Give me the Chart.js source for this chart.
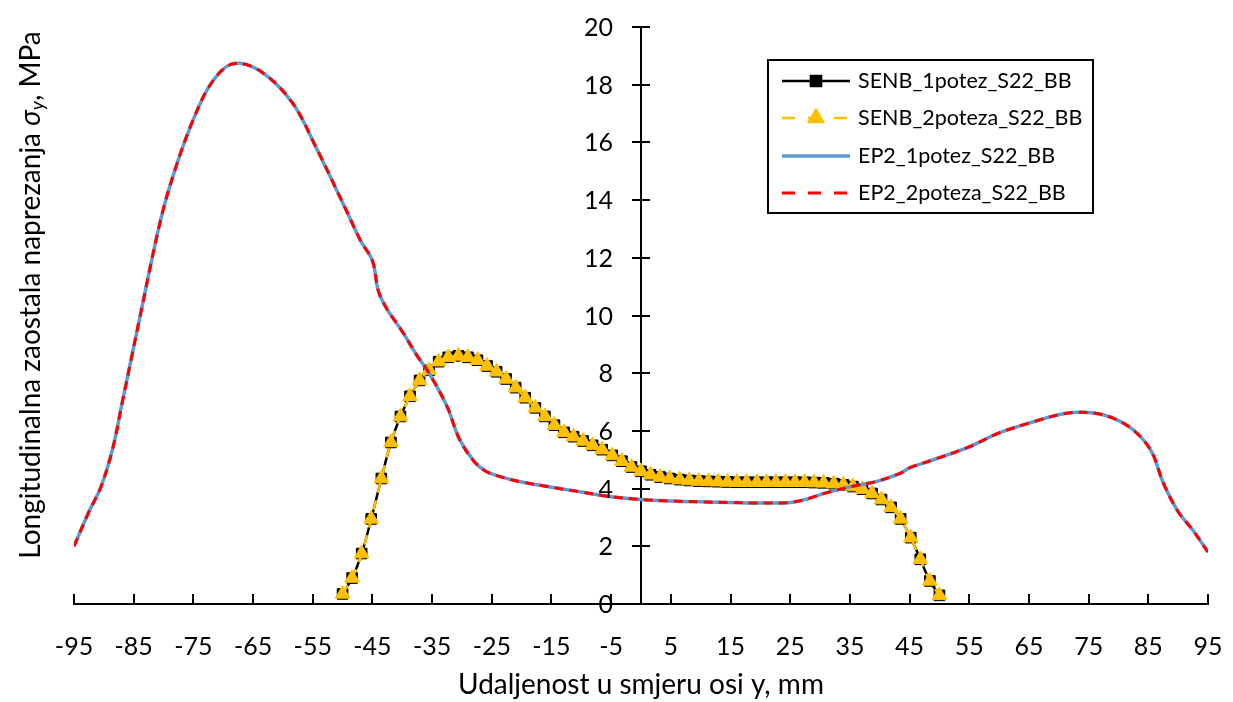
<!DOCTYPE html>
<html>
<head>
<meta charset="utf-8">
<script src="https://cdn.jsdelivr.net/npm/chart.js@4.4.0/dist/chart.umd.min.js"></script>
<style>
  html, body { margin: 0; padding: 0; background: #fff; }
  #wrap { width: 1233px; height: 702px; }
</style>
</head>
<body>
<div id="wrap"><canvas id="myChart" width="1233" height="702"></canvas></div>
<script>
const xTicks = [-95, -85, -75, -65, -55, -45, -35, -25, -15, -5, 5, 15, 25, 35, 45, 55, 65, 75, 85, 95];
const yTicks = [0, 2, 4, 6, 8, 10, 12, 14, 16, 18, 20];

const seriesNames = ['SENB_1potez_S22_BB', 'SENB_2poteza_S22_BB', 'EP2_1potez_S22_BB', 'EP2_2poteza_S22_BB'];

// SENB measurement positions, mm
const senbX = [
  -50.0, -48.4, -46.8, -45.2, -43.5, -41.9, -40.3, -38.7, -37.1, -35.5, -33.9, -32.3, -30.6, -29.0,
  -27.4, -25.8, -24.2, -22.6, -21.0, -19.4, -17.7, -16.1, -14.5, -12.9, -11.3, -9.7, -8.1, -6.5,
  -4.8, -3.2, -1.6, 0.0, 1.6, 3.2, 4.8, 6.5, 8.1, 9.7, 11.3, 12.9, 14.5, 16.1, 17.7, 19.4, 21.0,
  22.6, 24.2, 25.8, 27.4, 29.0, 30.6, 32.3, 33.9, 35.5, 37.1, 38.7, 40.3, 41.9, 43.5, 45.2, 46.8,
  48.4, 50.0
];
const senb1Y = [
  0.35, 0.9, 1.75, 2.95, 4.35, 5.6, 6.5, 7.2, 7.75, 8.1, 8.4, 8.55, 8.6, 8.55,
  8.45, 8.25, 8.05, 7.8, 7.5, 7.15, 6.8, 6.5, 6.2, 5.95, 5.8, 5.65, 5.5, 5.35,
  5.15, 4.95, 4.75, 4.6, 4.48, 4.4, 4.35, 4.31, 4.28, 4.26, 4.25, 4.24, 4.23, 4.22, 4.22, 4.22, 4.22,
  4.22, 4.22, 4.22, 4.22, 4.21, 4.2, 4.17, 4.13, 4.07, 3.98, 3.83, 3.62, 3.35, 2.95, 2.3, 1.55,
  0.8, 0.3
];
const senb2Y = [
  0.35, 0.9, 1.75, 2.95, 4.35, 5.6, 6.5, 7.2, 7.75, 8.1, 8.4, 8.55, 8.6, 8.55,
  8.45, 8.25, 8.05, 7.8, 7.5, 7.15, 6.8, 6.5, 6.2, 5.95, 5.8, 5.65, 5.5, 5.35,
  5.15, 4.95, 4.75, 4.6, 4.48, 4.4, 4.35, 4.31, 4.28, 4.26, 4.25, 4.24, 4.23, 4.22, 4.22, 4.22, 4.22,
  4.22, 4.22, 4.22, 4.22, 4.21, 4.2, 4.17, 4.13, 4.07, 3.98, 3.83, 3.62, 3.35, 2.95, 2.3, 1.55,
  0.8, 0.3
];

// EP2 calculated profile, mm
const ep2X = [
  -95, -92.5, -90.5, -88.5, -87, -85.5, -84, -80.5, -78, -75, -72, -68.5, -64, -58.5, -54.5,
  -49.5, -47, -45, -44, -42.5, -40, -37.5, -35.5, -32.5, -30.5, -28, -26, -23, -20, -15, -10,
  -5, 0, 5, 10, 15, 20, 25, 28, 31, 35, 39.5, 43.5, 45, 49, 55, 60, 65.5, 71, 75.5, 79, 82.5,
  85.5, 87.5, 90, 92.5, 95
];
const ep1Y = [
  2.0, 3.2, 4.05, 5.4, 6.9, 8.4, 9.9, 13.3, 15.1, 16.8, 18.05, 18.72, 18.5, 17.4, 15.85,
  13.7, 12.6, 11.9, 10.85, 10.2, 9.45, 8.6, 8.0, 6.85, 5.75, 4.95, 4.6, 4.38, 4.23, 4.05, 3.88,
  3.72, 3.62, 3.57, 3.54, 3.52, 3.5, 3.52, 3.65, 3.85, 4.06, 4.25, 4.54, 4.72, 5.0, 5.45, 5.93, 6.3, 6.6, 6.63, 6.45, 6.03,
  5.3, 4.2, 3.2, 2.55, 1.8
];
const ep2Y = [
  2.0, 3.2, 4.05, 5.4, 6.9, 8.4, 9.9, 13.3, 15.1, 16.8, 18.05, 18.72, 18.5, 17.4, 15.85,
  13.7, 12.6, 11.9, 10.85, 10.2, 9.45, 8.6, 8.0, 6.85, 5.75, 4.95, 4.6, 4.38, 4.23, 4.05, 3.88,
  3.72, 3.62, 3.57, 3.54, 3.52, 3.5, 3.52, 3.65, 3.85, 4.06, 4.25, 4.54, 4.72, 5.0, 5.45, 5.93, 6.3, 6.6, 6.63, 6.45, 6.03,
  5.3, 4.2, 3.2, 2.55, 1.8
];

const FONT = 'Lato';
const legendDash = [[], [13, 13], [], [13, 13]];

function toPoints(xs, ys) {
  return xs.map((x, i) => ({ x: x, y: ys[i] }));
}

// tick marks, y tick labels, legend box and the y title (with italic sigma_y)
const decorPlugin = {
  id: 'decor',
  afterDraw(chart) {
    const ctx = chart.ctx;
    const xs = chart.scales.x;
    const ys = chart.scales.y;
    const x0 = xs.getPixelForValue(0);
    const yBase = ys.getPixelForValue(0);

    ctx.save();
    ctx.strokeStyle = '#000';
    ctx.lineWidth = 2;
    ctx.beginPath();
    xTicks.forEach((v) => {
      const px = Math.round(xs.getPixelForValue(v));
      ctx.moveTo(px, yBase);
      ctx.lineTo(px, yBase - 10);
    });
    yTicks.forEach((v) => {
      const py = Math.round(ys.getPixelForValue(v));
      ctx.moveTo(x0 - 9, py);
      ctx.lineTo(x0 + 9, py);
    });
    ctx.stroke();

    ctx.fillStyle = '#000';
    ctx.font = '25px ' + FONT;
    ctx.textAlign = 'right';
    ctx.textBaseline = 'middle';
    yTicks.forEach((v) => {
      ctx.fillText(String(v), x0 - 28, ys.getPixelForValue(v) + 1);
    });

    // legend
    const box = { x: 768, y: 60, w: 325, h: 153 };
    ctx.fillStyle = '#fff';
    ctx.fillRect(box.x, box.y, box.w, box.h);
    ctx.lineWidth = 2;
    ctx.strokeRect(box.x, box.y, box.w, box.h);
    const rows = [81, 118, 156, 193];
    chart.data.datasets.forEach((ds, i) => {
      const y = rows[i];
      ctx.save();
      ctx.strokeStyle = ds.borderColor;
      ctx.lineWidth = ds.borderWidth;
      ctx.setLineDash(legendDash[i]);
      ctx.beginPath();
      ctx.moveTo(782, y);
      ctx.lineTo(850, y);
      ctx.stroke();
      ctx.restore();
      if (ds.pointRadius > 0) {
        ctx.save();
        ctx.fillStyle = ds.pointBackgroundColor;
        ctx.strokeStyle = ds.pointBorderColor;
        Chart.helpers.drawPoint(ctx, {
          pointStyle: ds.pointStyle, radius: ds.pointRadius, borderWidth: 1, rotation: 0
        }, 816, y);
        ctx.restore();
      }
      ctx.fillStyle = '#000';
      ctx.font = '21.5px ' + FONT;
      ctx.textBaseline = 'middle';
      ctx.textAlign = 'left';
      ctx.fillText(ds.label, 858, y);
    });

    // y axis title
    const parts = [
      { t: 'Longitudinalna zaostala naprezanja ', f: '28px ' + FONT, dy: 0 },
      { t: 'σ', f: 'italic 28px ' + FONT, dy: 0 },
      { t: 'y', f: 'italic 19px ' + FONT, dy: 7 },
      { t: ', MPa', f: '28px ' + FONT, dy: 0 },
    ];
    let total = 0;
    parts.forEach((p) => { ctx.font = p.f; p.w = ctx.measureText(p.t).width; total += p.w; });
    ctx.translate(31, 295);
    ctx.rotate(-Math.PI / 2);
    ctx.fillStyle = '#000';
    ctx.textBaseline = 'middle';
    ctx.textAlign = 'left';
    let cx = -total / 2;
    parts.forEach((p) => {
      ctx.font = p.f;
      ctx.fillText(p.t, cx, p.dy);
      cx += p.w;
    });
    ctx.restore();
  }
};

const chartData = {
  datasets: [
    {
      label: seriesNames[0],
      data: toPoints(senbX, senb1Y),
      borderColor: '#000000',
      backgroundColor: '#000000',
      pointBackgroundColor: '#000000',
      pointBorderColor: '#000000',
      borderWidth: 2.5,
      pointStyle: 'rect',
      pointRadius: 7.5,
      pointBorderWidth: 1,
      tension: 0.35,
      order: 4,
    },
    {
      label: seriesNames[1],
      data: toPoints(senbX, senb2Y),
      borderColor: '#FFC000',
      backgroundColor: '#FFC000',
      pointBackgroundColor: '#FFC000',
      pointBorderColor: '#FFC000',
      borderWidth: 2.5,
      borderDash: [10, 8],
      pointStyle: 'triangle',
      pointRadius: 8.5,
      pointBorderWidth: 1,
      tension: 0.35,
      order: 3,
    },
    {
      label: seriesNames[2],
      data: toPoints(ep2X, ep1Y),
      borderColor: '#5B9BD5',
      backgroundColor: '#5B9BD5',
      borderWidth: 3.5,
      pointRadius: 0,
      tension: 0.35,
      order: 2,
    },
    {
      label: seriesNames[3],
      data: toPoints(ep2X, ep2Y),
      borderColor: '#FF0000',
      backgroundColor: '#FF0000',
      borderWidth: 3,
      borderDash: [9, 6],
      pointRadius: 0,
      tension: 0.35,
      order: 1,
    },
  ],
};

const config = {
  type: 'line',
  data: chartData,
  options: {
    responsive: false,
    animation: false,
    layout: { padding: { left: 74, right: 25, top: 27, bottom: 0 } },
    plugins: { legend: { display: false }, tooltip: { enabled: false } },
    scales: {
      x: {
        type: 'linear',
        min: -95,
        max: 95,
        afterBuildTicks: (scale) => { scale.ticks = xTicks.map((v) => ({ value: v })); },
        afterFit: (scale) => { scale.height = 98; scale.paddingLeft = 0; scale.paddingRight = 0; },
        ticks: {
          color: '#000',
          font: { family: FONT, size: 25 },
          padding: 20,
          autoSkip: false,
          maxRotation: 0,
          callback: (v) => String(v),
        },
        grid: { display: false },
        border: { display: true, color: '#000', width: 2 },
        title: {
          display: true,
          text: 'Udaljenost u smjeru osi y, mm',
          color: '#000',
          font: { family: FONT, size: 28 },
          padding: { top: 8, bottom: 0 },
        },
      },
      y: {
        type: 'linear',
        position: { x: 0 },
        min: 0,
        max: 20,
        afterBuildTicks: (scale) => { scale.ticks = yTicks.map((v) => ({ value: v })); },
        afterFit: (scale) => { scale.paddingTop = 0; scale.paddingBottom = 0; },
        ticks: { display: false },
        grid: { display: false },
        border: { display: true, color: '#000', width: 2 },
      },
    },
  },
  plugins: [decorPlugin],
};

const myChart = new Chart(document.querySelector('#myChart'), config);
</script>
</body>
</html>
